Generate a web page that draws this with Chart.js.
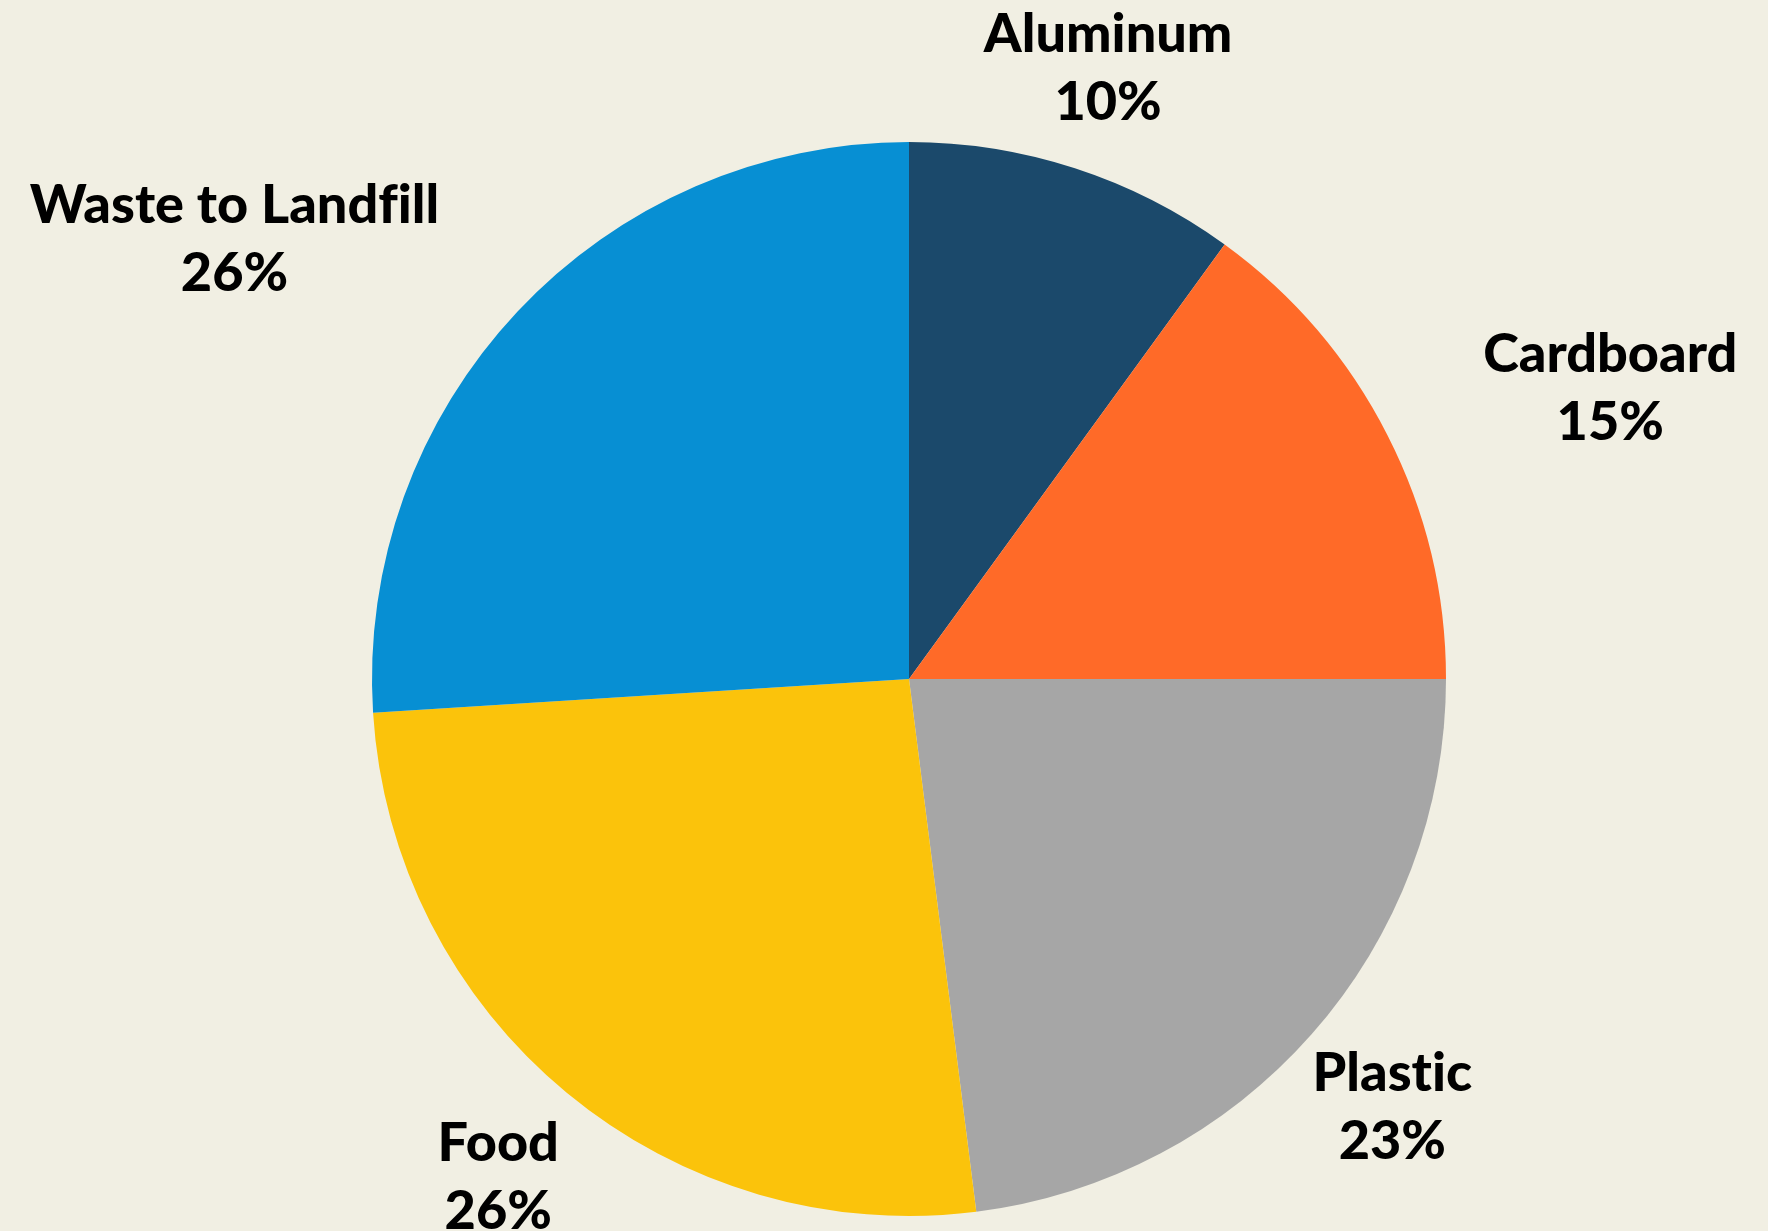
<!DOCTYPE html>
<html>
<head>
<meta charset="utf-8">
<script src="https://cdn.jsdelivr.net/npm/chart.js@4"></script>
<style>
    html, body { margin: 0; padding: 0; background: #f1efe3; }
    #wrap { width: 1768px; height: 1231px; position: relative; }
</style>
</head>
<body>
<div id="wrap"><canvas id="wastePie"></canvas></div>
<script>
const categories = ['Aluminum', 'Cardboard', 'Plastic', 'Food', 'Waste to Landfill'];
const shares = [10, 15, 23, 26, 26];
const sliceColors = ['#1b496b', '#ff6a28', '#a6a6a6', '#fbc30b', '#078fd3'];

const labelFont = '900 54px Lato';
const lineGap = 68;
const capHeight = 39;

// draws "name / pct" outside each slice; pushes label outward when it would sit on the pie
const outerLabels = {
    id: 'outerLabels',
    afterDatasetsDraw(chart) {
        const ctx = chart.ctx;
        const arcs = chart.getDatasetMeta(0).data;
        ctx.save();
        ctx.font = labelFont;
        ctx.textRendering = 'optimizeSpeed'; // no fi / fl / ti ligatures
        ctx.fillStyle = '#000000';
        ctx.textBaseline = 'alphabetic';
        ctx.textAlign = 'center';
        arcs.forEach((arc, i) => {
            const r = arc.outerRadius;
            const mid = (arc.startAngle + arc.endAngle) / 2;
            const ax = arc.x + Math.cos(mid) * r * 1.2;
            const ay = arc.y + Math.sin(mid) * r * 1.2;
            const lines = [categories[i], shares[i] + '%'];
            const w = Math.max(...lines.map(t => ctx.measureText(t).width));
            const top = ay - (lineGap + capHeight) / 2;
            const bottom = top + lineGap + capHeight;
            const cx = Math.max(ax - w / 2, Math.min(arc.x, ax + w / 2));
            const cy = Math.max(top, Math.min(arc.y, bottom));
            let x = ax;
            if (Math.hypot(cx - arc.x, cy - arc.y) < r) {
                x = ax < arc.x ? ax - w / 2 : ax + w / 2;
            }
            lines.forEach((t, k) => {
                ctx.fillText(t, x, top + capHeight + k * lineGap);
            });
        });
        ctx.restore();
    }
};

new Chart(document.getElementById('wastePie').getContext('2d'), {
    type: 'pie',
    data: {
        labels: categories,
        datasets: [{
            data: shares,
            backgroundColor: sliceColors,
            borderWidth: 0
        }]
    },
    options: {
        responsive: true,
        maintainAspectRatio: false,
        animation: false,
        layout: {
            padding: { top: 142, bottom: 15, left: 372, right: 322 }
        },
        plugins: {
            legend: { display: false },
            tooltip: { enabled: false }
        }
    },
    plugins: [outerLabels]
});
</script>
</body>
</html>
